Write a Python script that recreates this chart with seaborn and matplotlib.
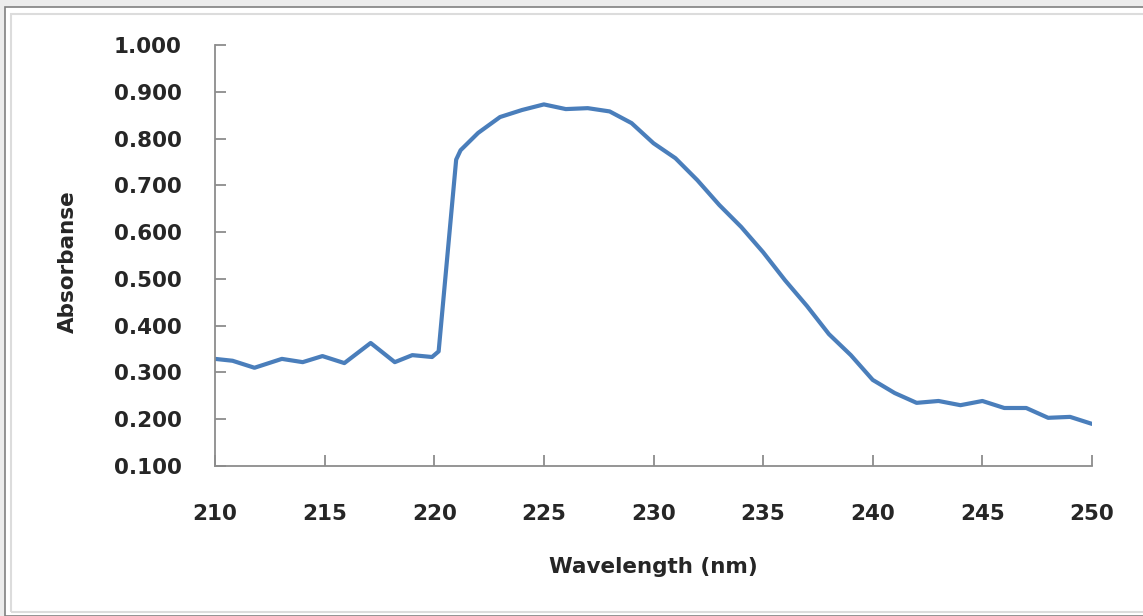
import matplotlib
matplotlib.use('Agg')
import matplotlib.pyplot as plt
import pandas as pd
import seaborn as sns
from matplotlib.patches import Rectangle
from matplotlib.ticker import FormatStrFormatter

wavelength = [210, 210.8, 211.8, 213.05, 214, 214.9, 215.9, 217.1, 218.2, 219, 219.9, 220.2,
              221, 221.2, 222, 223, 224, 225, 226, 227, 228, 229, 230,
              231, 232, 233, 234, 235, 236, 237, 238, 239, 240,
              241, 242, 243, 244, 245, 246, 247, 248, 249, 250]
absorbance = [0.329, 0.325, 0.310, 0.329, 0.322, 0.335, 0.320, 0.363, 0.322, 0.337, 0.333, 0.345,
              0.755, 0.775, 0.812, 0.846, 0.861, 0.873, 0.863, 0.865, 0.858, 0.833, 0.790,
              0.758, 0.711, 0.658, 0.611, 0.557, 0.497, 0.442, 0.382, 0.337, 0.284,
              0.256, 0.235, 0.239, 0.230, 0.239, 0.224, 0.224, 0.203, 0.205, 0.190]

x_ticks = [210, 215, 220, 225, 230, 235, 240, 245, 250]
y_ticks = [0.1, 0.2, 0.3, 0.4, 0.5, 0.6, 0.7, 0.8, 0.9, 1.0]

df = pd.DataFrame({'wavelength': wavelength, 'absorbance': absorbance})

sns.set_style('white')
plt.rcParams['font.family'] = ['DejaVu Sans']

fig = plt.figure(figsize=(11.43, 6.16), dpi=100, facecolor='#ececec')

# marco blanco estilo captura
W, H = 1143, 616
fig.patches.append(Rectangle((5 / W, 0), 1, 1 - 7 / H, transform=fig.transFigure,
                             facecolor='white', edgecolor='#808080', linewidth=1.2, zorder=-2))
fig.patches.append(Rectangle((11 / W, 4 / H), 1, 1 - 18 / H, transform=fig.transFigure,
                             facecolor='none', edgecolor='#dcdcdc', linewidth=1.5, zorder=-1))

ax = fig.add_axes([215 / W, 1 - 466 / H, (1092 - 215) / W, (466 - 45) / H])
ax.set_facecolor('none')

sns.lineplot(data=df, x='wavelength', y='absorbance', ax=ax,
             color='#4a7ebb', linewidth=3.0, solid_joinstyle='round', solid_capstyle='round')

ax.set_xlim(210, 250)
ax.set_ylim(0.1, 1.0)
ax.set_xticks(x_ticks)
ax.set_yticks(y_ticks)
ax.yaxis.set_major_formatter(FormatStrFormatter('%.3f'))

for s in ['top', 'right']:
    ax.spines[s].set_visible(False)
for s in ['left', 'bottom']:
    ax.spines[s].set_color('#8c8c8c')
    ax.spines[s].set_linewidth(1.3)

ax.tick_params(axis='both', bottom=True, left=True, direction='in', length=8, width=1.3,
               color='#8c8c8c', labelsize=15.5, labelcolor='#262626')
ax.tick_params(axis='y', pad=24)
ax.tick_params(axis='x', pad=27)
for lbl in ax.get_xticklabels() + ax.get_yticklabels():
    lbl.set_fontweight('bold')

ax.set_xlabel('Wavelength (nm)', fontsize=15.5, fontweight='bold', color='#262626', labelpad=24)
ax.set_ylabel('Absorbanse', fontsize=15.5, fontweight='bold', color='#262626')
ax.yaxis.set_label_coords(-0.156, 0.485)

fig.savefig('out.png', dpi=100, facecolor=fig.get_facecolor())
